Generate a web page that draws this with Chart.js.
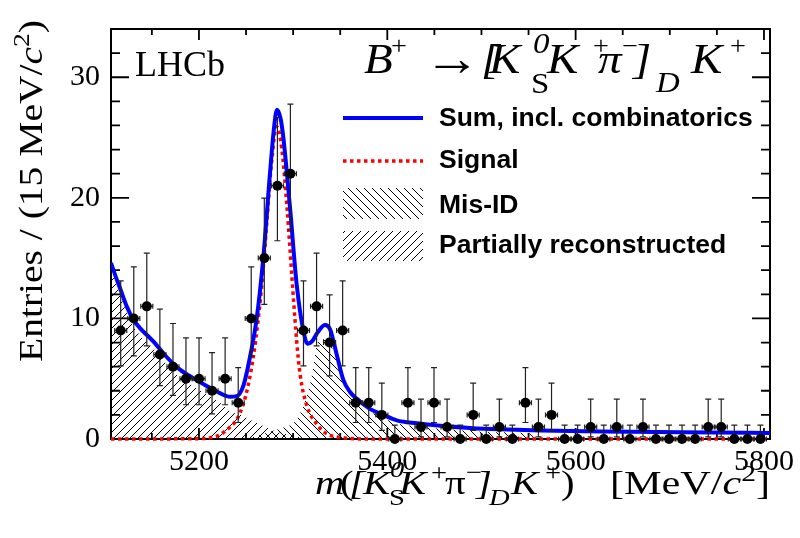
<!DOCTYPE html>
<html><head><meta charset="utf-8">
<script src="https://cdn.jsdelivr.net/npm/chart.js@4.4.1/dist/chart.umd.min.js"></script>
<style>html,body{margin:0;padding:0;background:#fff;}canvas{display:block;}</style>
</head><body>
<canvas id="c" width="800" height="538"></canvas>
<script>
// ---------------- data ----------------
const binCenters = [5116.9,5130.8,5144.6,5158.5,5172.4,5186.2,5200.1,5213.9,5227.8,5241.7,
  5255.5,5269.4,5283.3,5297.1,5311.0,5324.9,5338.7,5352.6,5366.5,5380.3,
  5394.2,5408.0,5421.9,5435.8,5449.6,5463.5,5477.4,5491.2,5505.1,5519.0,
  5532.8,5546.7,5560.5,5574.4,5588.3,5602.1,5616.0,5629.9,5643.7,5657.6,
  5671.5,5685.3,5699.2,5713.0,5726.9,5740.8,5754.6,5768.5,5782.4,5796.2];
const counts = [9,10,11,7,6,5,5,4,5,3, 10,15,21,22,9,11,8,9,3,3, 2,0,3,1,3,1,0,2,0,1, 0,3,1,2,0,0,1,0,1,0, 1,0,0,0,0,1,1,0,0,0];
const errDown = [2.94,3.11,3.27,2.58,2.38,2.16,2.16,1.91,2.16,1.63, 3.11,3.84,4.56,4.67,2.94,3.27,2.77,2.94,1.63,1.63,
  1.29,0,1.63,0.83,1.63,0.83,0,1.29,0,0.83, 0,1.63,0.83,1.29,0,0,0.83,0,0.83,0, 0.83,0,0,0,0,0.83,0.83,0,0,0];
const errUp = [4.11,4.27,4.42,3.77,3.58,3.38,3.38,3.16,3.38,2.92, 4.27,4.97,5.66,5.77,4.11,4.42,3.95,4.11,2.92,2.92,
  2.64,1.15,2.92,2.30,2.92,2.30,1.15,2.64,1.15,2.30, 1.15,2.92,2.30,2.64,1.15,1.15,2.30,1.15,2.30,1.15, 2.30,1.15,1.15,1.15,1.15,2.30,2.30,1.15,1.15,1.15];
const binHalfWidth = 6.4;

const totalX = [5106.6,5111.9,5116.2,5123.3,5130.3,5137.4,5151.5,5165.7,5179.9,5194.0,5208.2,5222.3,5233.0,5240.1,5247.1,5254.2,5261.3,5268.3,5275.4,5279.7,5282.9,5286.6,5289.6,5296.7,5303.8,5310.8,5315.3,5320.1,5326.5,5333.9,5339.2,5346.3,5353.3,5360.4,5367.5,5381.6,5395.8,5410.0,5431.2,5456.0,5487.8,5519.7,5562.2,5625.9,5710.9,5806.4];
const totalY = [14.6,13.4,12.5,11.0,9.9,9.2,8.1,6.8,5.75,5.05,4.4,3.8,3.5,3.55,4.4,6.8,10.0,15.0,22.0,25.8,27.3,26.6,25.0,19.2,12.8,9.0,7.9,8.1,8.9,9.45,9.1,7.0,4.9,3.9,3.35,2.5,2.0,1.55,1.3,1.1,0.92,0.8,0.7,0.62,0.56,0.5];

const signalX = [5106.6,5201.1,5211.7,5222.3,5233.0,5240.1,5247.1,5252.4,5257.7,5263.0,5267.0,5271.9,5277.2,5282.5,5287.9,5293.5,5300.2,5303.8,5307.3,5314.4,5325.0,5331.7,5339.2,5355.1,5371.0,5806.4];
const signalY = [0,0.03,0.1,0.35,1.0,1.6,2.9,4.5,6.8,10.0,13.0,17.8,23.0,25.9,24.1,19.2,11.8,8.1,5.4,2.8,1.25,0.65,0.3,0.08,0.01,0];

const partRecoX = [5106.6,5111.9,5116.2,5123.3,5130.3,5137.4,5151.5,5165.7,5179.9,5194.0,5208.2,5222.3,5233.0,5247.1,5254.2,5271.9,5282.5,5296.7,5307.3,5318.0,5326.5];
const partRecoY = [14.0,12.9,12.0,10.5,9.4,8.6,7.5,6.2,5.1,4.4,3.7,3.0,2.3,1.9,1.6,0.95,0.6,0.35,0.15,0.03,0];

const misIdX = [5243.6,5259.5,5275.4,5291.4,5300.2,5307.3,5312.6,5319.7,5325.4,5329.6,5334.9,5340.2,5346.3,5353.3,5360.4,5367.5,5381.6,5395.8,5410.0,5431.2,5456.0,5487.8,5519.7,5551.5,5556.9];
const misIdY = [0,0.2,0.6,1.0,1.3,2.1,3.1,5.2,7.85,8.2,8.3,7.8,6.4,4.5,3.6,3.05,2.25,1.75,1.3,1.05,0.85,0.67,0.55,0.45,0];

const xTickLabels = [5200,5400,5600,5800];
const yTickLabels = [0,10,20,30];
const xMinorStep = 50, yMinorStep = 2;
const xRange = [5106.6, 5806.4], yRange = [0, 34];

const legendLabels = ['Sum, incl. combinatorics','Signal','Mis-ID','Partially reconstructed'];

// ---------------- helpers ----------------
const canvas = document.getElementById('c');
const mainCtx = canvas.getContext('2d');
function zip(xs, ys){ return xs.map((x,i)=>({x:x, y:ys[i]})); }
function makeHatch(dir){
  const s = 8, c = document.createElement('canvas'); c.width = s; c.height = s;
  const g = c.getContext('2d'); g.strokeStyle = '#000'; g.lineWidth = 1; g.beginPath();
  if (dir === '/') { g.moveTo(-1,s+1); g.lineTo(s+1,-1); g.moveTo(-1,1); g.lineTo(1,-1); g.moveTo(s-1,s+1); g.lineTo(s+1,s-1); }
  else { g.moveTo(-1,-1); g.lineTo(s+1,s+1); g.moveTo(s-1,-1); g.lineTo(s+1,1); g.moveTo(-1,s-1); g.lineTo(1,s+1); }
  g.stroke();
  return mainCtx.createPattern(c, 'repeat');
}
const hatchFwd = makeHatch('/'), hatchBack = makeHatch('\\');

const SERIF = '"Liberation Serif", "DejaVu Serif", serif';
const SANS = '"Liberation Sans", Arial, sans-serif';

function drawAbs(ctx, pieces, baseY, size, sx){
  pieces.forEach(p => {
    const sz = size * (p.s || 1);
    ctx.save();
    ctx.font = (p.i ? 'italic ' : '') + sz.toFixed(1) + 'px ' + SERIF;
    ctx.translate(p.x, baseY + (p.dy || 0));
    ctx.scale(sx || 1, 1);
    ctx.fillText(p.t, 0, 0);
    ctx.restore();
  });
}
function drawFlow(ctx, pieces, size, x0, y0, targetW, rot){
  ctx.save();
  let x = 0; const items = [];
  pieces.forEach(p => {
    const sz = size * (p.s || 1);
    ctx.font = (p.i ? 'italic ' : '') + sz.toFixed(1) + 'px ' + SERIF;
    const w = ctx.measureText(p.t).width;
    items.push({t:p.t, f:ctx.font, x:x, dy:(p.dy||0)});
    x += w;
  });
  ctx.translate(x0, y0);
  if (rot) ctx.rotate(rot);
  ctx.scale(targetW ? targetW / x : 1, 1);
  items.forEach(it => { ctx.font = it.f; ctx.fillText(it.t, it.x, it.dy); });
  ctx.restore();
}

// ---------------- plugins ----------------
const frameTicks = {
  id: 'frameTicks',
  beforeDatasetsDraw(chart){
    const {ctx, chartArea:a, scales:{x, y}} = chart;
    ctx.save(); ctx.strokeStyle = '#000'; ctx.lineWidth = 2;
    ctx.strokeRect(a.left, a.top, a.right - a.left, a.bottom - a.top);
    ctx.beginPath(); ctx.lineWidth = 1.8;
    for (let v = Math.ceil(xRange[0]/xMinorStep)*xMinorStep; v <= xRange[1]; v += xMinorStep){
      const px = x.getPixelForValue(v), L = xTickLabels.includes(v) ? 11 : 6;
      ctx.moveTo(px, a.bottom); ctx.lineTo(px, a.bottom - L);
      ctx.moveTo(px, a.top); ctx.lineTo(px, a.top + L);
    }
    for (let v = yRange[0]; v <= yRange[1]; v += yMinorStep){
      const py = y.getPixelForValue(v), L = yTickLabels.includes(v) ? 18 : 9;
      ctx.moveTo(a.left, py); ctx.lineTo(a.left + L, py);
      ctx.moveTo(a.right, py); ctx.lineTo(a.right - L, py);
    }
    ctx.stroke(); ctx.restore();
  }
};
const errorBars = {
  id: 'errorBars',
  beforeDatasetDraw(chart, args){
    if (args.index !== 0) return;
    const {ctx, scales:{x, y}} = chart;
    ctx.save(); ctx.strokeStyle = '#222'; ctx.lineWidth = 1.2; ctx.beginPath();
    binCenters.forEach((c, i) => {
      const px = x.getPixelForValue(c), py = y.getPixelForValue(counts[i]);
      const hi = y.getPixelForValue(counts[i] + errUp[i]);
      const lo = y.getPixelForValue(counts[i] - errDown[i]);
      ctx.moveTo(px, lo); ctx.lineTo(px, hi);
      ctx.moveTo(px - 3, hi); ctx.lineTo(px + 3, hi);
      if (errDown[i] > 0){ ctx.moveTo(px - 3, lo); ctx.lineTo(px + 3, lo); }
      const xl = x.getPixelForValue(c - binHalfWidth), xr = x.getPixelForValue(c + binHalfWidth);
      ctx.moveTo(xl, py); ctx.lineTo(xr, py);
      ctx.moveTo(xl, py - 2.5); ctx.lineTo(xl, py + 2.5);
      ctx.moveTo(xr, py - 2.5); ctx.lineTo(xr, py + 2.5);
    });
    ctx.stroke(); ctx.restore();
  }
};
const annotations = {
  id: 'annotations',
  afterDraw(chart){
    const ctx = chart.ctx;
    ctx.save(); ctx.fillStyle = '#000'; ctx.textAlign = 'left'; ctx.textBaseline = 'alphabetic';
    // LHCb
    ctx.font = '36px ' + SERIF; ctx.fillText('LHCb', 135, 76);
    // decay title
    drawAbs(ctx, [
      {t:'B', i:1, x:364}, {t:'+', s:0.6, dy:-19, x:391}, {t:'\u2192', s:1.2, x:424, dy:2},
      {t:'[', i:1, x:481}, {t:'K', i:1, x:489}, {t:'0', i:1, s:0.7, dy:-20, x:533}, {t:'S', s:0.7, dy:20, x:531},
      {t:'K', i:1, x:547}, {t:'+', s:0.6, dy:-19, x:593}, {t:'\u03c0', i:1, x:598}, {t:'\u2212', s:0.6, dy:-19, x:622},
      {t:']', i:1, x:633}, {t:'D', i:1, s:0.7, dy:19, x:656}, {t:'K', i:1, x:691}, {t:'+', s:0.6, dy:-19, x:730}
    ], 73, 42, 1.12);
    // legend
    ctx.lineWidth = 4; ctx.strokeStyle = '#0000ff';
    ctx.beginPath(); ctx.moveTo(343, 118); ctx.lineTo(423, 118); ctx.stroke();
    ctx.lineWidth = 3.5; ctx.strokeStyle = '#ff0000'; ctx.setLineDash([3.5, 3.5]);
    ctx.beginPath(); ctx.moveTo(343, 161); ctx.lineTo(423, 161); ctx.stroke(); ctx.setLineDash([]);
    ctx.fillStyle = hatchBack; ctx.fillRect(343, 188, 80, 31);
    ctx.fillStyle = hatchFwd; ctx.fillRect(343, 231, 80, 30);
    ctx.fillStyle = '#000'; ctx.font = 'bold 26.5px ' + SANS;
    [126, 168, 213, 253].forEach((yb, k) => ctx.fillText(legendLabels[k], 439, yb));
    // x-axis title
    drawAbs(ctx, [
      {t:'m', i:1, x:315}, {t:'(', x:340}, {t:'[', i:1, x:349}, {t:'K', i:1, x:363},
      {t:'0', i:1, s:0.7, dy:-17, x:390}, {t:'S', s:0.7, dy:11, x:389}, {t:'K', i:1, x:399},
      {t:'+', s:0.7, dy:-14, x:431}, {t:'\u03c0', x:445}, {t:'\u2212', s:0.7, dy:-14, x:466},
      {t:']', i:1, x:476}, {t:'D', i:1, s:0.7, dy:11, x:489}, {t:'K', i:1, x:511},
      {t:'+', s:0.7, dy:-14, x:545}, {t:')', x:561}
    ], 494, 34, 1.2);
    drawFlow(ctx, [{t:'[MeV/'}, {t:'c', i:1}, {t:'2', s:0.7, dy:-13}, {t:']'}], 34, 610, 494, 160, 0);
    // y-axis title
    drawFlow(ctx, [{t:'Entries / (15 MeV/'}, {t:'c', i:1}, {t:'2', s:0.7, dy:-13}, {t:')'}], 34, 42, 362, 342, -Math.PI/2);
    ctx.restore();
  }
};

// ---------------- chart ----------------
const curve = {pointRadius:0, cubicInterpolationMode:'monotone'};
new Chart(mainCtx, {
  type: 'line',
  data: { datasets: [
    {label:'Data', data: zip(binCenters, counts), showLine:false, pointRadius:5, pointBackgroundColor:'#000', pointBorderWidth:0, borderColor:'#000', order:0, clip:false},
    Object.assign({label:legendLabels[0], data: zip(totalX, totalY), borderColor:'#0000ff', borderWidth:4, fill:false, order:1}, curve),
    Object.assign({label:legendLabels[1], data: zip(signalX, signalY), borderColor:'#ff0000', borderWidth:3.5, borderDash:[3.5,3.5], fill:false, order:2, clip:false}, curve),
    Object.assign({label:legendLabels[2], data: zip(misIdX, misIdY), borderColor:'rgba(0,0,0,0)', borderWidth:0, backgroundColor:hatchBack, fill:'origin', order:3}, curve),
    Object.assign({label:legendLabels[3], data: zip(partRecoX, partRecoY), borderColor:'rgba(0,0,0,0)', borderWidth:0, backgroundColor:hatchFwd, fill:'origin', order:4}, curve)
  ]},
  options: {
    responsive:false, animation:false, events:[], devicePixelRatio:1,
    layout:{padding:{top:11, right:30, left:0, bottom:0}},
    plugins:{legend:{display:false}, tooltip:{enabled:false}},
    scales:{
      x:{type:'linear', min:xRange[0], max:xRange[1],
        afterBuildTicks: s => { s.ticks = xTickLabels.map(v => ({value:v})); },
        afterFit: s => { s.height = 99; },
        ticks:{font:{family:SERIF, size:30}, color:'#000', padding:5, maxRotation:0, autoSkip:false, callback: v => String(v)},
        grid:{display:false, drawTicks:false}, border:{display:false}},
      y:{type:'linear', min:yRange[0], max:yRange[1],
        afterBuildTicks: s => { s.ticks = yTickLabels.map(v => ({value:v})); },
        afterFit: s => { s.width = 111; },
        ticks:{font:{family:SERIF, size:30}, color:'#000', padding:11, autoSkip:false, callback: v => String(v)},
        grid:{display:false, drawTicks:false}, border:{display:false}}
    }
  },
  plugins:[frameTicks, errorBars, annotations]
});
</script>
</body></html>
